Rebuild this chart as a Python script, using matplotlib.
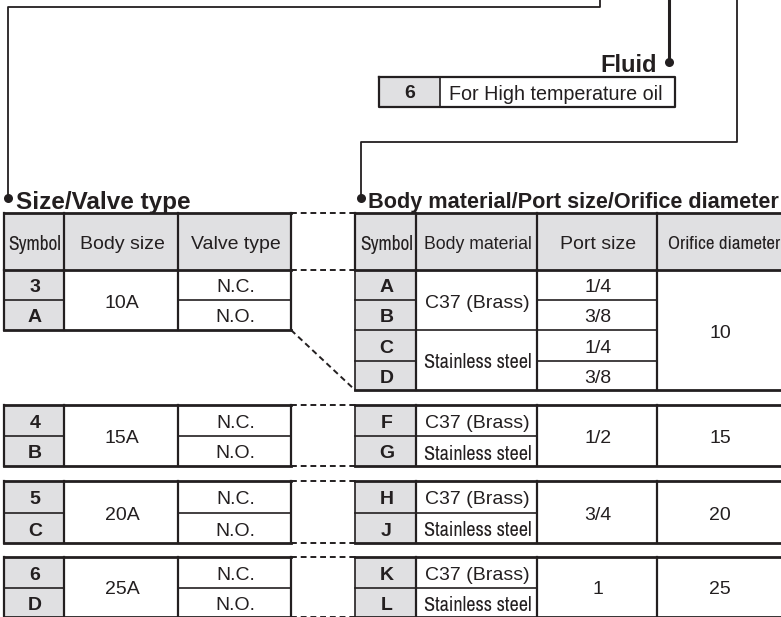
"""Ordering-code table: size/valve type and body material/port size/orifice diameter."""
import matplotlib
matplotlib.use('Agg')
import matplotlib.pyplot as plt
from matplotlib import font_manager
from matplotlib.font_manager import FontProperties
from matplotlib.patches import Rectangle

# ---- data -------------------------------------------------------------
FLUID_SYMBOL = '6'
FLUID_TEXT = 'For High temperature oil'

LEFT_HEAD = ['Symbol', 'Body size', 'Valve type']
RIGHT_HEAD = ['Symbol', 'Body material', 'Port size', 'Orifice diameter']

SIZE_SYMBOLS = [['3', 'A'], ['4', 'B'], ['5', 'C'], ['6', 'D']]
BODY_SIZES = ['10A', '15A', '20A', '25A']
VALVE_TYPES = ['N.C.', 'N.O.']

# first group has four rows, the others two
MAT_SYMBOLS = [['A', 'B', 'C', 'D'], ['F', 'G'], ['H', 'J'], ['K', 'L']]
MATERIALS = ['C37 (Brass)', 'Stainless steel']
PORT_SIZES = [['1/4', '3/8', '1/4', '3/8'], ['1/2'], ['3/4'], ['1']]
ORIFICES = ['10', '15', '20', '25']

# ---- layout (pixels, y down) -------------------------------------------
W, H = 781, 617
INK = '#231f20'
GRAY = '#e0e0e2'
L_COLS = [4, 64, 178, 291]
R_COLS = [355, 416, 537, 657, 790]
HEAD = (213, 270)
L_GROUPS = [(270, 300, 330), (405, 436, 466), (481, 513, 543), (557, 588, 617)]
R_GROUPS = [(270, 300, 330, 361, 390), (405, 436, 466), (481, 513, 543), (557, 588, 617)]
# widths some labels take in the reference (condensed type there)
NARROW_W = {'Symbol': 53, 'Orifice diameter': 113, 'Stainless steel': 108}
FIT_W = {'Body material': 109}


def find_condensed():
    prefs = ['Archivo Narrow', 'Pragati Narrow', 'PT Sans Narrow', 'Liberation Sans Narrow',
             'Roboto Condensed', 'Asap Condensed', 'Barlow Semi Condensed']
    found = {}
    for f in font_manager.fontManager.ttflist:
        fn = f.fname.split('/')[-1]
        if f.style != 'normal' or 'Italic' in fn:
            continue
        if f.name in prefs and f.weight in (400, 'normal', 'regular'):
            found.setdefault(f.name, f.fname)
    for p in prefs:
        if p in found:
            return found[p]
    return None


COND = find_condensed()
plt.rcParams['font.family'] = ['Liberation Sans', 'DejaVu Sans']

fig = plt.figure(figsize=(W / 100, H / 100), dpi=100)
ax = fig.add_axes([0, 0, 1, 1])
ax.set_xlim(0, W)
ax.set_ylim(H, 0)
ax.axis('off')
renderer = fig.canvas.get_renderer()


def line(xs, ys, lw=1.4, ls='-'):
    kw = dict(dashes=(3, 2)) if ls == '--' else {}
    ax.plot(xs, ys, color=INK, lw=lw, solid_capstyle='projecting',
            dash_capstyle='butt', **kw)


def fill(x0, x1, y0, y1, color=GRAY):
    ax.add_patch(Rectangle((x0, y0), x1 - x0, y1 - y0, facecolor=color, edgecolor='none', zorder=0))


def txt(x, y, s, size=14, weight='normal', ha='center'):
    if s in NARROW_W and COND:
        fp = FontProperties(fname=COND, size=size)
    else:
        fp = FontProperties(family='Liberation Sans', weight=weight, size=size)
    t = ax.text(x, y, s, fontproperties=fp, ha=ha, va='center_baseline', color=INK)
    target = NARROW_W.get(s) or FIT_W.get(s)
    if target:
        # scale so it takes the width it has in the reference
        w = t.get_window_extent(renderer).width
        size = min(size * target / w, 15.5)
        t.set_fontsize(size)
    return t


def mid(a, b):
    return (a + b) / 2 + 1


# ---- connectors --------------------------------------------------------
line([8, 8, 600, 600], [197, 7, 7, 0], lw=1.3)
line([669, 669], [0, 62], lw=2.2)
line([737, 737, 361, 361], [0, 142, 142, 197], lw=1.3)
for x, y in [(8, 198), (361, 198), (669, 62)]:
    ax.plot(x, y, 'o', ms=6.5, color=INK, mec='none')

txt(657, 63, 'Fluid', size=17, weight='bold', ha='right')
txt(16, 200, 'Size/Valve type', size=17.5, weight='bold', ha='left')
txt(368, 200, 'Body material/Port size/Orifice diameter', size=15.6, weight='bold', ha='left')

# ---- fluid box -----------------------------------------------------------
fill(379, 440, 77, 107)
line([379, 675, 675, 379, 379], [77, 77, 107, 107, 77], lw=1.6)
line([440, 440], [77, 107], lw=1.2)
txt(410, 92, FLUID_SYMBOL, weight='bold')
txt(449, 92, FLUID_TEXT, size=14.2, ha='left')

# ---- headers -------------------------------------------------------------
fill(L_COLS[0], L_COLS[-1], *HEAD)
fill(R_COLS[0], R_COLS[-1], *HEAD)
for cols, heads in [(L_COLS, LEFT_HEAD), (R_COLS, RIGHT_HEAD)]:
    for i, h in enumerate(heads):
        txt(mid(cols[i], cols[i + 1]), mid(*HEAD), h)
        line([cols[i], cols[i]], list(HEAD), lw=1.6)
    line([cols[0], cols[-1]], [HEAD[0]] * 2, lw=2.0)
    line([cols[0], cols[-1]], [HEAD[1]] * 2, lw=2.0)
line([L_COLS[-1]] * 2, list(HEAD), lw=1.6)

# ---- left table ----------------------------------------------------------
for g, (top, half, bot) in enumerate(L_GROUPS):
    fill(L_COLS[0], L_COLS[1], top, bot)
    txt(mid(L_COLS[0], L_COLS[1]), mid(top, half), SIZE_SYMBOLS[g][0], weight='bold')
    txt(mid(L_COLS[0], L_COLS[1]), mid(half, bot), SIZE_SYMBOLS[g][1], weight='bold')
    txt(mid(L_COLS[1], L_COLS[2]), mid(top, bot), BODY_SIZES[g])
    txt(mid(L_COLS[2], L_COLS[3]), mid(top, half), VALVE_TYPES[0])
    txt(mid(L_COLS[2], L_COLS[3]), mid(half, bot), VALVE_TYPES[1])
    line([L_COLS[0], L_COLS[1]], [half, half], lw=1.2)
    line([L_COLS[2], L_COLS[3]], [half, half], lw=1.2)
    for x in L_COLS:
        line([x, x], [top, bot], lw=1.6)
    if g > 0:
        line([L_COLS[0], L_COLS[-1]], [top, top], lw=2.0)
    line([L_COLS[0], L_COLS[-1]], [bot, bot], lw=2.0)

# ---- right table ---------------------------------------------------------
for g, edges in enumerate(R_GROUPS):
    top, bot = edges[0], edges[-1]
    syms = MAT_SYMBOLS[g]
    fill(R_COLS[0], R_COLS[1], top, bot)
    for i, s in enumerate(syms):
        txt(mid(R_COLS[0], R_COLS[1]), mid(edges[i], edges[i + 1]), s, weight='bold')
    if len(syms) == 4:
        for k, m in enumerate(MATERIALS):
            txt(mid(R_COLS[1], R_COLS[2]), mid(edges[2 * k], edges[2 * k + 2]), m)
        for i, p in enumerate(PORT_SIZES[g]):
            txt(mid(R_COLS[2], R_COLS[3]), mid(edges[i], edges[i + 1]), p)
        for y in edges[1:-1]:
            line([R_COLS[0], R_COLS[1]], [y, y], lw=1.2)
            line([R_COLS[2], R_COLS[3]], [y, y], lw=1.2)
        line([R_COLS[1], R_COLS[2]], [edges[2]] * 2, lw=1.2)
    else:
        for k, m in enumerate(MATERIALS):
            txt(mid(R_COLS[1], R_COLS[2]), mid(edges[k], edges[k + 1]), m)
        txt(mid(R_COLS[2], R_COLS[3]), mid(top, bot), PORT_SIZES[g][0])
        line([R_COLS[0], R_COLS[2]], [edges[1]] * 2, lw=1.2)
    txt(mid(R_COLS[3], R_COLS[4] - 9), mid(top, bot), ORIFICES[g])
    for x in R_COLS[:-1]:
        line([x, x], [top, bot], lw=1.6 if x != R_COLS[0] else 1.2)
    if g > 0:
        line([R_COLS[0], R_COLS[-1]], [top, top], lw=2.0)
    line([R_COLS[0], R_COLS[-1]], [bot, bot], lw=2.0)

# ---- dashed links between tables ----------------------------------------
for y in HEAD:
    line([L_COLS[-1], R_COLS[0]], [y, y], lw=1.4, ls='--')
line([L_COLS[-1], R_COLS[0]], [L_GROUPS[0][-1], R_GROUPS[0][-1]], lw=1.4, ls='--')
for rows in L_GROUPS[1:]:
    line([L_COLS[-1], R_COLS[0]], [rows[0]] * 2, lw=1.4, ls='--')
    line([L_COLS[-1], R_COLS[0]], [rows[-1]] * 2, lw=1.4, ls='--')

fig.savefig('out.png', dpi=100)
